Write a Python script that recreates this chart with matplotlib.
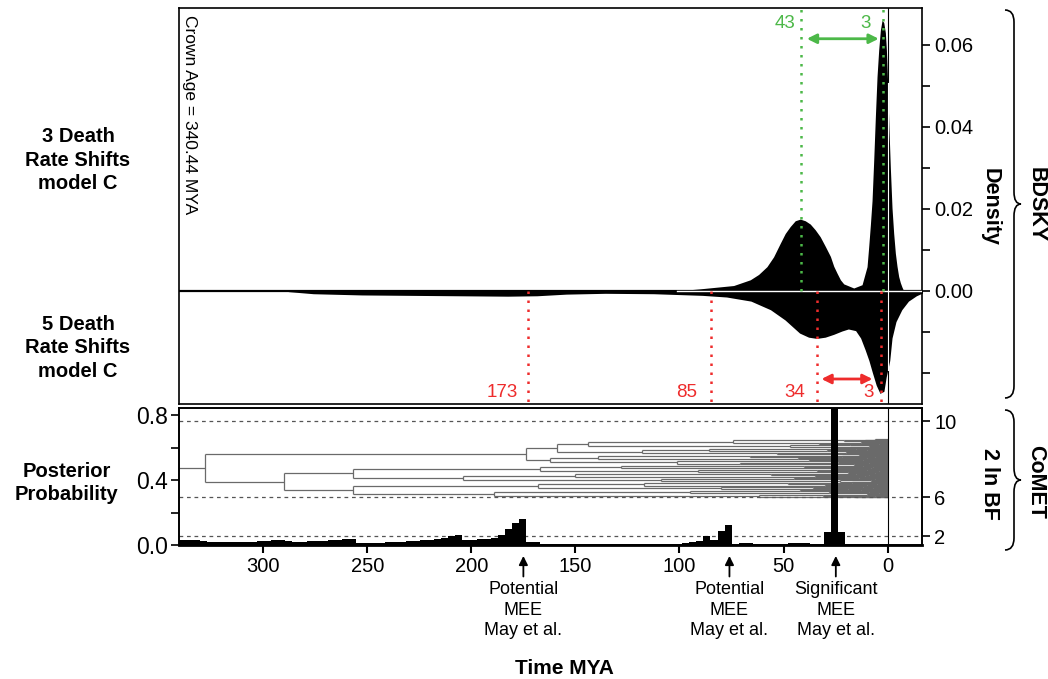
import matplotlib
matplotlib.use("Agg")
import matplotlib.pyplot as plt
import numpy as np
from matplotlib.path import Path
from matplotlib.patches import PathPatch
from matplotlib.collections import LineCollection

plt.rcParams['font.family'] = ['Liberation Sans', 'DejaVu Sans']

# ---------------- data ----------------
crown_age = 340.44

# BDSKY density, 3 death-rate shifts (model C)  (time MYA, density)
top_t = [101.2, 90.0, 74.0, 66.0, 62.0, 58.0, 54.8, 51.6, 49.2, 46.8, 44.4, 42.0,
         39.6, 37.2, 34.8, 32.4, 29.9, 27.5, 25.9, 24.3, 22.7, 21.1, 16.3, 12.3,
         9.9, 9.1, 8.3, 7.5, 6.7, 5.9, 5.1, 4.3, 3.5, 2.7, 1.9, 1.1, 0.6, 0.0,
         -0.6, -1.3, -2.1, -2.9, -3.7, -4.5, -5.3, -6.1, -6.9, -7.7]
top_d = [0.0, 0.0005, 0.0013, 0.0027, 0.0040, 0.0059, 0.0083, 0.0116, 0.0140,
         0.0157, 0.0171, 0.0175, 0.0171, 0.0163, 0.0149, 0.0132, 0.0108, 0.0084,
         0.0060, 0.0043, 0.0027, 0.0017, 0.0007, 0.0015, 0.0059, 0.0108, 0.0161,
         0.022, 0.0318, 0.0425, 0.0523, 0.0588, 0.0636, 0.066, 0.0655, 0.063, 0.0588,
         0.0507, 0.0401, 0.030, 0.0202, 0.014, 0.0092, 0.006, 0.0035, 0.002, 0.0009, 0.0]

# BDSKY density, 5 death-rate shifts (model C), drawn mirrored (negative)
bot_t = [290, 287.6, 275.9, 252.6, 229.2, 205.9, 182.5, 168.5, 154.4, 135.7, 112.4,
         89.0, 77.4, 65.7, 56.3, 49.3, 42.3, 38.0, 34.1, 30.0, 25.9, 22.0, 18.9,
         15.4, 13.0, 10.8, 9.0, 7.3, 5.5, 3.7, 1.8, 0.7, -1.0, -2.1, -4.0, -6.8,
         -10.0, -13.8, -17.3]
bot_d = [0, -0.0002, -0.0007, -0.0010, -0.0011, -0.0012, -0.0013, -0.0012, -0.0008,
         -0.0006, -0.0007, -0.0011, -0.0015, -0.0025, -0.0046, -0.0071, -0.0103,
         -0.0113, -0.0116, -0.0113, -0.0106, -0.0098, -0.0093, -0.0097, -0.0115,
         -0.0144, -0.0170, -0.020, -0.0230, -0.0250, -0.0245, -0.021, -0.0170,
         -0.0115, -0.0075, -0.0046, -0.0025, -0.0012, -0.0004]

green_shifts = [41.8, 2.3]
green_labels = ["43", "3"]
red_shifts = [173, 85, 34, 3]
red_labels = ["173", "85", "34", "3"]

# CoMET posterior probability of mass extinction, 100 bins from crown age to present
comet_pp = [0.032, 0.032, 0.030, 0.025, 0.018, 0.016, 0.017, 0.018, 0.019, 0.020,
            0.021, 0.023, 0.026, 0.028, 0.030, 0.022, 0.018, 0.020, 0.022, 0.024,
            0.026, 0.028, 0.031, 0.036, 0.034, 0.014, 0.013, 0.013, 0.014, 0.016,
            0.018, 0.020, 0.022, 0.025, 0.028, 0.033, 0.040, 0.046, 0.055, 0.062,
            0.030, 0.030, 0.034, 0.040, 0.046, 0.063, 0.096, 0.135, 0.162, 0.018,
            0.016, 0.004, 0.004, 0.004, 0.004, 0.004, 0.004, 0.004, 0.004, 0.004,
            0.004, 0.004, 0.004, 0.004, 0.004, 0.004, 0.004, 0.004, 0.004, 0.004,
            0.006, 0.012, 0.018, 0.026, 0.054, 0.028, 0.087, 0.124, 0.004, 0.010,
            0.010, 0.004, 0.004, 0.004, 0.004, 0.004, 0.010, 0.010, 0.010, 0.004,
            0.004, 0.079, 0.950, 0.079, 0.004, 0.004, 0.004, 0.004, 0.004, 0.004]

# 2 ln BF thresholds expressed on the posterior-probability axis
bf_levels = [0.055, 0.295, 0.763]
bf_labels = ["2", "6", "10"]

# MEE annotations (time MYA, label)
mee_t = [175, 76, 24.9]
mee_labels = ["Potential\nMEE\nMay et al.", "Potential\nMEE\nMay et al.",
              "Significant\nMEE\nMay et al."]

# phylogeny: [node age, children...]; 0 = tip at present
tree = [328,
  [173.6,
    [159,
      [144, [74.5, [21, [6, 0, 0], [11, 0, 0, 0]], [33, [13, 0, 0], [4, 0, 0]]],
            [47, [18, 0, [7, 0, 0]], [26, [9, 0, 0], 0]]],
      [118, [86, [15, [5, 0, 0], 0], [29, [10, 0, 0], [3, 0, 0]]],
            [53, [20, 0, 0], [8, 0, 0, 0]]]],
    [162,
      [139, [66, [14, 0, 0], [22, 0, [6, 0, 0]]], [43, [10, 0, 0], 0]],
      [101, [38, [12, 0, 0], [5, 0, 0]], [71, [24, 0, [9, 0, 0]], [16, 0, 0]]]]],
  [290,
    [257,
      [167, [128, [40, [12, 0, 0], [7, 0, 0]], [27, [8, 0, 0], 0]],
            [91, [34, [10, 0, 0], [4, 0, 0]], [19, 0, [6, 0, 0]]]],
      [204, [150, [56, [15, 0, 0], [9, 0, 0]], [35, [11, 0, 0], 0]],
            [109, [45, [14, 0, 0], [6, 0, 0]], [23, [8, 0, 0], [3, 0, 0]]]]],
    [257,
      [168, [117, [48, [17, 0, 0], [5, 0, 0]], [30, [10, 0, 0], 0]],
            [80, [36, [12, 0, 0], [7, 0, 0]], [19, 0, 0]]],
      [189, [95, [42, [13, 0, 0], 0], [28, [9, 0, 0], [4, 0, 0]]],
            [62, [31, [10, 0, 0], [6, 0, 0]], [15, 0, 0]]]]]]

x_ticks = [300, 250, 200, 150, 100, 50, 0]

# ---------------- figure ----------------
W, H = 1048, 679
fig = plt.figure(figsize=(W / 100, H / 100), dpi=100)

def fx(px):
    return px / W

def fy(py):
    return 1 - py / H

GREEN = '#4cb848'
RED = '#ee2c2c'
XL = (crown_age, -16.5)

ax1 = fig.add_axes([fx(179), fy(404), 743 / W, 396 / H])
ax2 = fig.add_axes([fx(179), fy(545), 743 / W, 137 / H])

# ---- top panel ----
ax1.set_xlim(*XL)
ax1.set_ylim(-0.0276, 0.069)
ax1.axhline(0, color='black', lw=1.6, zorder=1)
ax1.axvline(0, color='black', lw=0.8, zorder=1)
ax1.fill_between(top_t, 0, top_d, color='black', lw=0, zorder=2)
ax1.fill_between(bot_t, 0, bot_d, color='black', lw=0, zorder=2)
ax1.plot([top_t[0], bot_t[-1]], [0, 0], color='white', lw=1.0, zorder=3)
ax1.plot([0, 0], [np.interp(0, top_t[::-1], top_d[::-1]),
                  np.interp(0, bot_t[::-1], bot_d[::-1])],
         color='white', lw=0.8, zorder=3)

dot = (0, (1, 2.6))
for t in green_shifts:
    ax1.plot([t, t], [0, 0.069], color=GREEN, lw=1.8, ls=dot, zorder=4)
for t in red_shifts:
    ax1.plot([t, t], [0, -0.0276], color=RED, lw=1.8, ls=dot, zorder=4)

ax1.text(44.4, 0.0651, green_labels[0], color=GREEN, fontsize=13.5, ha='right', va='center')
ax1.text(8.0, 0.0651, green_labels[1], color=GREEN, fontsize=13.5, ha='right', va='center')
red_lab_x = [177.8, 91.3, 39.5, 6.9]
for xl, lab in zip(red_lab_x, red_labels):
    ax1.text(xl, -0.0248, lab, color=RED, fontsize=13.5, ha='right', va='center')

ax1.annotate('', xy=(green_shifts[1] + 2.0, 0.0615), xytext=(green_shifts[0] - 3.0, 0.0615),
             arrowprops=dict(arrowstyle='<|-|>', color=GREEN, lw=2, mutation_scale=14,
                             shrinkA=0, shrinkB=0))
ax1.annotate('', xy=(red_shifts[3] + 4.3, -0.0215), xytext=(red_shifts[2] - 2.2, -0.0215),
             arrowprops=dict(arrowstyle='<|-|>', color=RED, lw=2, mutation_scale=14,
                             shrinkA=0, shrinkB=0))

ax1.text(0.0148, 0.982, "Crown Age = %.2f MYA" % crown_age, transform=ax1.transAxes,
         rotation=270, ha='center', va='top', fontsize=12.5)

ax1.yaxis.tick_right()
yt = [-0.02, -0.01, 0.0, 0.01, 0.02, 0.03, 0.04, 0.05, 0.06]
ax1.set_yticks(yt)
ax1.set_yticklabels(['', '', '0.00', '', '0.02', '', '0.04', '', '0.06'])
ax1.tick_params(axis='y', direction='out', length=6, width=1.2, labelsize=14.5, pad=3)
ax1.set_xticks([])
for s in ax1.spines.values():
    s.set_linewidth(1.2)

# ---- bottom panel ----
ax2.set_xlim(*XL)
ax2.set_ylim(0, 0.845)

segs = []

def count(node):
    if node == 0:
        return 1
    return sum(count(c) for c in node[1:])

N = count(tree)
tip_y = iter(np.linspace(0.652, 0.295, N))

def draw(node, parent_age):
    if node == 0:
        y = next(tip_y)
        segs.append([(parent_age, y), (0, y)])
        return y
    age = node[0]
    ys = [draw(c, age) for c in node[1:]]
    segs.append([(age, ys[0]), (age, ys[-1])])
    y = (ys[0] + ys[-1]) / 2
    segs.append([(parent_age, y), (age, y)])
    return y

draw(tree, crown_age)
ax2.add_collection(LineCollection(segs, colors='#6a6a6a', linewidths=0.9, zorder=1))

for lv in bf_levels:
    ax2.axhline(lv, color='#555555', lw=0.9, ls=(0, (3, 3)), zorder=2)

w = crown_age / len(comet_pp)
centers = [crown_age - (i + 0.5) * w for i in range(len(comet_pp))]
ax2.bar(centers, comet_pp, width=w, color='black', lw=0, zorder=3)
ax2.axvline(0, color='black', lw=0.8, zorder=4)

ax2.set_yticks([0, 0.2, 0.4, 0.6, 0.8])
ax2.set_yticklabels(['0.0', '', '0.4', '', '0.8'])
ax2.tick_params(axis='y', direction='out', length=6, width=1.2, labelsize=16.5, pad=2)
ax2.set_xticks(x_ticks)
ax2.set_xticklabels([str(v) for v in x_ticks])
ax2.tick_params(axis='x', direction='out', length=6, width=1.5, labelsize=14.5, pad=3)
for s in ax2.spines.values():
    s.set_linewidth(1.2)
ax2.spines['bottom'].set_linewidth(2.0)

ax2r = ax2.twinx()
ax2r.set_ylim(ax2.get_ylim())
ax2r.set_yticks(bf_levels)
ax2r.set_yticklabels(bf_labels)
ax2r.tick_params(axis='y', direction='out', length=6, width=1.2, labelsize=14.5, pad=3)
for s in ax2r.spines.values():
    s.set_linewidth(1.2)

for t, lab in zip(mee_t, mee_labels):
    ax2.annotate('', xy=(t, -0.08), xycoords=('data', 'axes fraction'),
                 xytext=(t, -0.23), textcoords=('data', 'axes fraction'),
                 arrowprops=dict(arrowstyle='-|>', color='black', lw=1.3,
                                 mutation_scale=13, shrinkA=0, shrinkB=0))
    ax2.text(t, -0.265, lab, transform=ax2.get_xaxis_transform(), ha='center',
             va='top', fontsize=13, linespacing=1.25)

# ---- labels outside ----
fig.text(fx(78), fy(160), "3 Death\nRate Shifts\nmodel C", ha='center', va='center',
         fontsize=14.5, fontweight='bold', linespacing=1.3)
fig.text(fx(78), fy(348), "5 Death\nRate Shifts\nmodel C", ha='center', va='center',
         fontsize=14.5, fontweight='bold', linespacing=1.3)
fig.text(fx(67), fy(483), "Posterior\nProbability", ha='center', va='center',
         fontsize=14.5, fontweight='bold', linespacing=1.3)
fig.text(fx(564), fy(668), "Time MYA", ha='center', va='center', fontsize=15,
         fontweight='bold')
fig.text(fx(990), fy(207), "Density", ha='center', va='center', fontsize=15.5,
         fontweight='bold', rotation=270)
fig.text(fx(990), fy(484), "2 ln BF", ha='center', va='center', fontsize=15.5,
         fontweight='bold', rotation=270)
fig.text(fx(1036), fy(205), "BDSKY", ha='center', va='center', fontsize=15.5,
         fontweight='bold', rotation=270)
fig.text(fx(1036), fy(482), "CoMET", ha='center', va='center', fontsize=15.5,
         fontweight='bold', rotation=270)

def brace(x, y0, y1, w=9, tip=7, r=12):
    ym = (y0 + y1) / 2
    pts = [(x - w, y0), (x, y0), (x, y0 + r), (x, ym - r), (x, ym), (x + tip, ym),
           (x, ym), (x, ym + r), (x, y1 - r), (x, y1), (x - w, y1)]
    codes = [Path.MOVETO, Path.CURVE3, Path.CURVE3, Path.LINETO, Path.CURVE3,
             Path.CURVE3, Path.CURVE3, Path.CURVE3, Path.LINETO, Path.CURVE3, Path.CURVE3]
    verts = [(fx(px), fy(py)) for px, py in pts]
    fig.patches.append(PathPatch(Path(verts, codes), fc='none', ec='black', lw=1.2,
                                 transform=fig.transFigure))

brace(1014, 10, 398)
brace(1014, 410, 550)

fig.savefig("out.png", dpi=100)
